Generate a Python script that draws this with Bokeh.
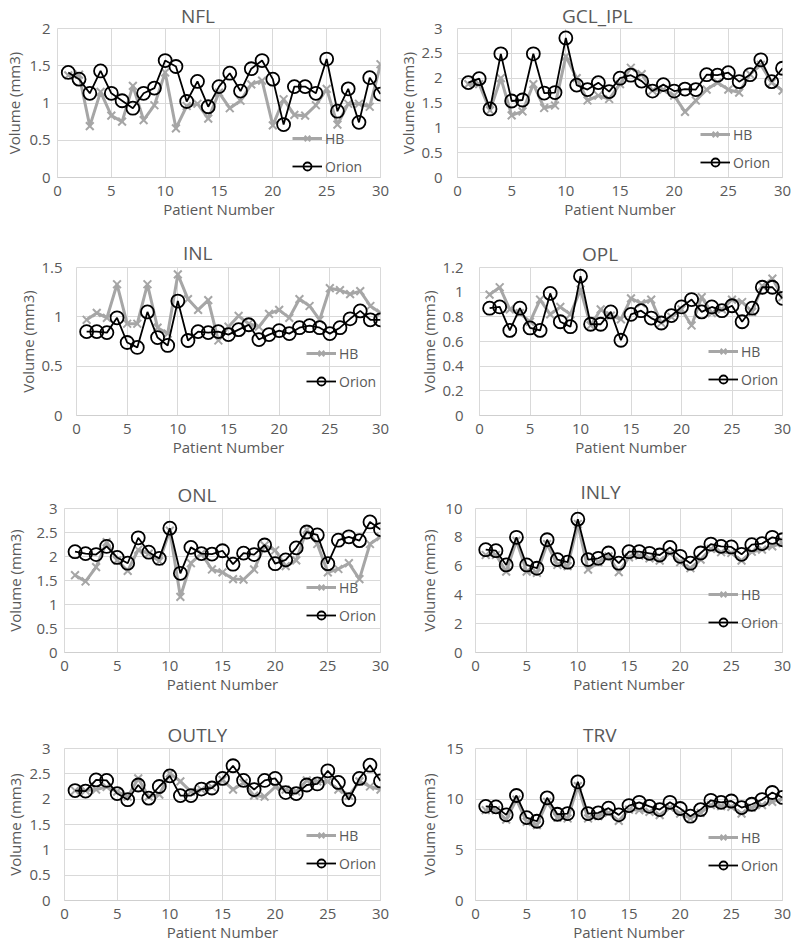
from bokeh.plotting import figure
from bokeh.layouts import row, column
from bokeh.models import Legend, LegendItem, CustomJSTickFormatter
from bokeh.embed import file_html
from bokeh.resources import INLINE

# ---------------- data ----------------
patients = list(range(1, 31))
x_ticks = [0, 5, 10, 15, 20, 25, 30]

titles = ["NFL", "GCL_IPL", "INL", "OPL", "ONL", "INLY", "OUTLY", "TRV"]

nfl_hb = [1.37, 1.38, 0.69, 1.15, 0.83, 0.75, 1.23, 0.77, 0.97, 1.41,
          0.66, 0.96, 0.99, 0.79, 1.14, 0.93, 1.03, 1.25, 1.30, 0.70,
          1.05, 0.84, 0.83, 0.97, 1.19, 0.71, 0.99, 0.99, 0.95, 1.52]
nfl_orion = [1.41, 1.32, 1.13, 1.43, 1.13, 1.03, 0.93, 1.13, 1.20, 1.57,
             1.49, 1.02, 1.29, 0.95, 1.22, 1.40, 1.16, 1.46, 1.57, 1.32,
             0.71, 1.22, 1.22, 1.13, 1.59, 0.89, 1.19, 0.74, 1.34, 1.12]
nfl_ticks = [0, 0.5, 1, 1.5, 2]

gcl_hb = [1.88, 1.88, 1.35, 2.00, 1.25, 1.33, 1.88, 1.40, 1.45, 2.44,
          2.00, 1.55, 1.65, 1.58, 1.88, 2.21, 2.08, 1.75, 1.77, 1.65,
          1.32, 1.55, 1.77, 1.91, 1.77, 1.71, 2.08, 2.27, 1.91, 1.75]
gcl_orion = [1.91, 1.99, 1.38, 2.49, 1.54, 1.56, 2.49, 1.70, 1.71, 2.81,
             1.86, 1.77, 1.91, 1.73, 2.00, 2.06, 1.94, 1.74, 1.87, 1.74,
             1.78, 1.77, 2.07, 2.06, 2.11, 1.93, 2.07, 2.37, 1.93, 2.20]
gcl_ticks = [0, 0.5, 1, 1.5, 2, 2.5, 3]

inl_hb = [0.97, 1.04, 0.99, 1.33, 0.93, 0.93, 1.33, 0.89, 0.83, 1.43,
          1.18, 1.07, 1.17, 0.76, 0.90, 1.01, 0.93, 0.90, 1.03, 1.07,
          0.99, 1.18, 1.11, 0.97, 1.29, 1.27, 1.23, 1.26, 1.11, 1.04]
inl_orion = [0.85, 0.85, 0.84, 0.99, 0.74, 0.69, 1.05, 0.79, 0.71, 1.16,
             0.76, 0.85, 0.84, 0.85, 0.82, 0.87, 0.92, 0.77, 0.82, 0.86,
             0.83, 0.89, 0.91, 0.89, 0.83, 0.89, 0.98, 1.06, 0.97, 0.97]
inl_ticks = [0, 0.5, 1, 1.5]

opl_hb = [0.98, 1.04, 0.86, 0.83, 0.76, 0.94, 0.82, 0.88, 0.82, 1.02,
          0.73, 0.86, 0.81, 0.78, 0.95, 0.91, 0.94, 0.75, 0.80, 0.86,
          0.73, 0.96, 0.83, 0.86, 0.94, 0.92, 0.84, 1.05, 1.11, 0.96]
opl_orion = [0.87, 0.88, 0.69, 0.87, 0.71, 0.69, 0.99, 0.76, 0.72, 1.13,
             0.74, 0.74, 0.84, 0.61, 0.82, 0.85, 0.79, 0.75, 0.81, 0.88,
             0.94, 0.84, 0.88, 0.85, 0.89, 0.76, 0.87, 1.04, 1.04, 0.95]
opl_ticks = [0, 0.2, 0.4, 0.6, 0.8, 1, 1.2]

onl_hb = [1.61, 1.48, 1.78, 2.30, 1.92, 1.70, 2.14, 2.06, 1.90, 2.54,
          1.16, 1.86, 2.06, 1.73, 1.67, 1.53, 1.52, 1.73, 2.23, 2.13,
          1.80, 1.92, 2.56, 2.26, 1.67, 1.74, 1.86, 1.53, 2.26, 2.41]
onl_orion = [2.10, 2.06, 2.04, 2.21, 1.98, 1.86, 2.39, 2.09, 1.96, 2.59,
             1.65, 2.19, 2.06, 2.05, 2.12, 1.84, 2.07, 2.04, 2.24, 1.85,
             1.93, 2.18, 2.51, 2.45, 1.85, 2.34, 2.41, 2.33, 2.72, 2.56]
onl_ticks = [0, 0.5, 1, 1.5, 2, 2.5, 3]

inly_hb = [6.77, 6.77, 5.62, 7.76, 5.62, 5.53, 7.53, 6.08, 5.99, 8.92,
           5.76, 6.27, 6.68, 5.58, 6.61, 6.73, 6.54, 6.38, 6.91, 6.27,
           5.85, 6.45, 7.19, 6.96, 6.91, 6.38, 7.00, 7.14, 7.37, 7.60]
inly_orion = [7.14, 7.07, 6.08, 8.00, 6.08, 5.85, 7.83, 6.45, 6.27, 9.26,
              6.45, 6.54, 6.91, 6.20, 7.00, 7.00, 6.89, 6.77, 7.30, 6.68,
              6.20, 6.91, 7.53, 7.37, 7.33, 6.82, 7.49, 7.56, 8.00, 7.83]
inly_ticks = [0, 2, 4, 6, 8, 10]

outly_hb = [2.17, 2.17, 2.19, 2.24, 2.15, 2.05, 2.41, 2.05, 2.09, 2.51,
            2.35, 2.15, 2.19, 2.24, 2.38, 2.19, 2.32, 2.07, 2.05, 2.24,
            2.19, 2.15, 2.37, 2.35, 2.35, 2.19, 2.07, 2.35, 2.25, 2.19]
outly_orion = [2.17, 2.16, 2.38, 2.37, 2.11, 1.99, 2.28, 2.02, 2.25, 2.46,
               2.07, 2.07, 2.20, 2.22, 2.41, 2.66, 2.37, 2.19, 2.37, 2.41,
               2.13, 2.11, 2.28, 2.30, 2.56, 2.33, 1.99, 2.41, 2.67, 2.36]
outly_ticks = [0, 0.5, 1, 1.5, 2, 2.5, 3]

trv_hb = [8.91, 8.91, 7.99, 9.96, 7.76, 7.43, 9.73, 8.18, 8.09, 11.29,
          8.09, 8.32, 8.65, 7.86, 8.97, 8.91, 8.75, 8.42, 9.17, 8.58,
          8.09, 8.65, 9.41, 9.31, 9.24, 8.58, 9.17, 9.41, 9.73, 10.06]
trv_orion = [9.29, 9.24, 8.45, 10.36, 8.18, 7.82, 10.13, 8.51, 8.58, 11.71,
             8.58, 8.65, 9.11, 8.45, 9.37, 9.69, 9.29, 8.97, 9.69, 9.08,
             8.32, 8.97, 9.89, 9.69, 9.82, 9.17, 9.50, 9.96, 10.66, 10.17]
trv_ticks = [0, 5, 10, 15]

series = [
    (nfl_hb, nfl_orion, nfl_ticks),
    (gcl_hb, gcl_orion, gcl_ticks),
    (inl_hb, inl_orion, inl_ticks),
    (opl_hb, opl_orion, opl_ticks),
    (onl_hb, onl_orion, onl_ticks),
    (inly_hb, inly_orion, inly_ticks),
    (outly_hb, outly_orion, outly_ticks),
    (trv_hb, trv_orion, trv_ticks),
]

# ---------------- styling / layout ----------------
FONT = "Open Sans"
TEXT = "#595959"
GRID = "#d9d9d9"
HB_COLOR = "#a6a6a6"

col_x0 = [0, 395]
col_w = [395, 397]
row_h = [235, 230, 235, 244]

# left, right, top, bottom, tick_standoff, ylabel_standoff, title_standoff,
# title_cx, title_w, legend_from_right, orion_above_bottom
geo = [
    (57, 15, 25, 58, 7, 2, 0, 197, 33, 88, 11),
    (62, 10, 25, 58, 15, 0, 0, 600, 77, 82, 15),
    (76, 15, 30, 50, 14, 0, 4, 197, 29, 74, 34),
    (84, 10, 30, 48, 16, 0, 2, 600, 37, 74, 36),
    (64, 15, 43, 41, 7, 8, 2, 197, 40, 74, 37),
    (80, 10, 43, 48, 13, 3, 8, 600, 40, 74, 30),
    (64, 15, 48, 42, 14, 1, 2, 197, 60, 74, 37),
    (80, 10, 48, 44, 12, 4, 2, 599, 33, 74, 35),
]

fmt = CustomJSTickFormatter(code="return String(Math.round(tick*100)/100);")

figs = []
for i, (title, (hb, orion, yt), g) in enumerate(zip(titles, series, geo)):
    r, c = divmod(i, 2)
    W, H = col_w[c], row_h[r]
    left, right, top, bottom, tso, yso, tst, tcx, tw, lgr, oab = g
    frame_left_page = col_x0[c] + left
    p = figure(width=W, height=H, x_range=(0, 30), y_range=(yt[0], yt[-1]),
               output_backend="svg", toolbar_location=None,
               min_border_left=left, min_border_right=right,
               min_border_top=top, min_border_bottom=bottom)
    p.title.text = title
    p.title.align = "left"
    p.title.offset = tcx - tw / 2 - frame_left_page
    p.title.standoff = tst
    p.title.text_font = FONT
    p.title.text_font_size = "19px"
    p.title.text_font_style = "normal"
    p.title.text_color = TEXT
    p.outline_line_color = GRID
    p.background_fill_color = "white"
    p.border_fill_color = "white"

    p.xaxis.ticker = x_ticks
    p.yaxis.ticker = yt
    p.yaxis.formatter = fmt
    for ax in (p.xaxis[0], p.yaxis[0]):
        ax.major_tick_line_color = None
        ax.minor_tick_line_color = None
        ax.major_tick_out = 0
        ax.major_tick_in = 0
        ax.minor_tick_out = 0
        ax.minor_tick_in = 0
        ax.major_label_text_font = FONT
        ax.major_label_text_font_size = "15px"
        ax.major_label_text_color = TEXT
        ax.axis_label_text_font = FONT
        ax.axis_label_text_font_size = "15px"
        ax.axis_label_text_color = TEXT
        ax.axis_label_text_font_style = "normal"
    p.xaxis.axis_line_color = "#cfcfcf"
    p.yaxis.axis_line_color = None
    p.xaxis.axis_label = "Patient Number"
    p.yaxis.axis_label = "Volume (mm3)"
    p.xaxis.major_label_standoff = 8
    p.xaxis.axis_label_standoff = 0
    p.yaxis.major_label_standoff = tso
    p.yaxis.axis_label_standoff = yso
    p.xgrid.grid_line_color = GRID
    p.ygrid.grid_line_color = GRID

    l1 = p.line(patients, hb, line_color=HB_COLOR, line_width=3)
    m1 = p.scatter(patients, hb, marker="x", size=11, line_color=HB_COLOR, line_width=2)
    l2 = p.line(patients, orion, line_color="black", line_width=1.8)
    m2 = p.scatter(patients, orion, marker="circle", size=13, line_color="black",
                   fill_color=None, line_width=1.8)

    frame_w = W - left - right
    legend = Legend(items=[LegendItem(label="HB", renderers=[l1, m1]),
                           LegendItem(label="Orion", renderers=[l2, m2])],
                    location=(frame_w - lgr, oab - 10),
                    glyph_width=30, glyph_height=20, label_height=20,
                    spacing=8, padding=0, margin=0, label_standoff=3,
                    background_fill_alpha=0, border_line_color=None,
                    label_text_font=FONT, label_text_font_size="14px",
                    label_text_color=TEXT)
    p.add_layout(legend)
    figs.append(p)

layout = column([row(figs[0:2]), row(figs[2:4]), row(figs[4:6]), row(figs[6:8])])

open("out.html", "w").write(file_html(layout, INLINE))
